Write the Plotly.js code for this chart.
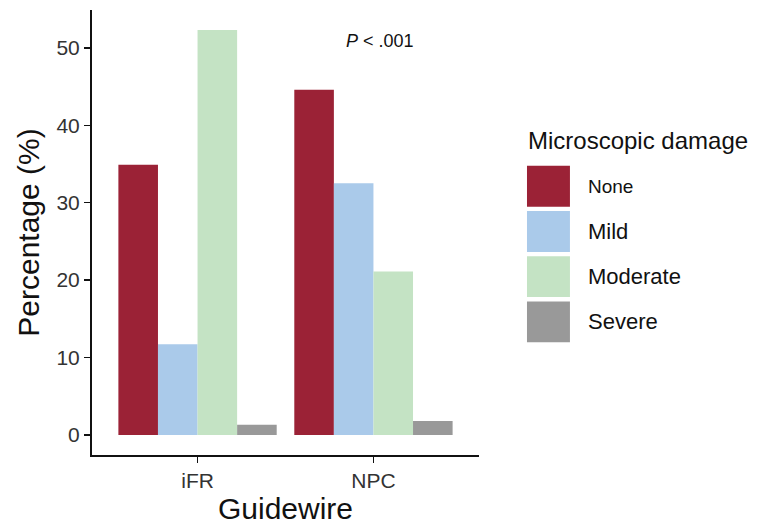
<!DOCTYPE html>
<html>
<head>
<meta charset="utf-8">
<script src="https://cdn.plot.ly/plotly-3.0.1.min.js"></script>
<style>html,body{margin:0;padding:0;background:#fff;}#chart{width:763px;height:528px;}</style>
</head>
<body>
<div id="chart"></div>
<script>
var categories = ["iFR", "NPC"];
var seriesNames = ["None", "Mild", "Moderate", "Severe"];
var seriesColors = ["#9B2236", "#AACAEA", "#C4E3C4", "#999999"];
var noneValues = [34.9, 44.6];
var mildValues = [11.7, 32.5];
var moderateValues = [52.3, 21.1];
var severeValues = [1.3, 1.8];
var yTicks = [0, 10, 20, 30, 40, 50];

var seriesValues = [noneValues, mildValues, moderateValues, severeValues];
var traces = seriesNames.map(function (name, i) {
  return {
    type: "bar",
    name: name,
    x: categories,
    y: seriesValues[i],
    marker: { color: seriesColors[i], line: { width: 0 } },
    showlegend: false,
    hoverinfo: "x+y+name"
  };
});

var font = "Liberation Sans, Arial, sans-serif";
var shapes = [];
var annotations = [
  {
    xref: "paper", yref: "paper", x: 0.745, y: 0.93, xanchor: "center", yanchor: "middle",
    text: "<i>P</i> < .001", showarrow: false, font: { family: font, size: 18, color: "#111" }
  },
  {
    xref: "paper", yref: "paper", x: 1.122, y: 0.706, xanchor: "left", yanchor: "middle",
    text: "Microscopic damage", showarrow: false, font: { family: font, size: 24, color: "#111" }
  }
];
// legend (manual, square keys)
var keyW = 0.111, keyTop = 0.650, keyH = 0.092, keyStep = 0.1016;
seriesNames.forEach(function (name, i) {
  var top = keyTop - i * keyStep;
  shapes.push({
    type: "rect", xref: "paper", yref: "paper",
    x0: 1.124, x1: 1.124 + keyW, y0: top - keyH, y1: top,
    fillcolor: seriesColors[i], line: { width: 0 }
  });
  annotations.push({
    xref: "paper", yref: "paper", x: 1.277, y: top - keyH / 2, xanchor: "left", yanchor: "middle",
    text: name, showarrow: false, font: { family: font, size: (i === 0 ? 19 : 22), color: "#111" }
  });
});

var layout = {
  width: 763, height: 528,
  margin: { l: 92, r: 284, t: 10, b: 73 },
  paper_bgcolor: "#fff", plot_bgcolor: "#fff",
  barmode: "group", bargap: 0.1, bargroupgap: 0,
  font: { family: font, color: "#333" },
  xaxis: {
    type: "category", range: [-0.6, 1.6],
    showline: true, linecolor: "#111", linewidth: 2,
    ticks: "outside", ticklen: 6, tickwidth: 1.5, tickcolor: "#111",
    tickfont: { family: font, size: 21, color: "#333" },
    showgrid: false, zeroline: false,
    title: { text: "Guidewire", font: { family: font, size: 30, color: "#111" }, standoff: 6 }
  },
  yaxis: {
    range: [-2.6, 54.9],
    tickvals: yTicks,
    showline: true, linecolor: "#111", linewidth: 2,
    ticks: "outside", ticklen: 6, tickwidth: 1.5, tickcolor: "#111",
    tickfont: { family: font, size: 21, color: "#333" },
    showgrid: false, zeroline: false,
    title: { text: "Percentage (%)", font: { family: font, size: 30, color: "#111" }, standoff: 8 }
  },
  shapes: shapes,
  annotations: annotations
};

Plotly.newPlot("chart", traces, layout, { displayModeBar: false, staticPlot: true });
</script>
</body>
</html>
